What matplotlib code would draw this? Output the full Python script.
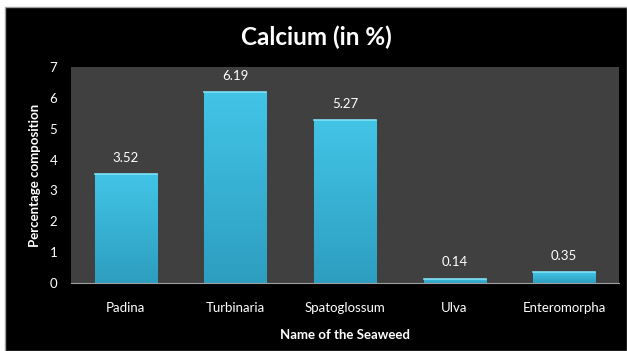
import numpy as np
import matplotlib
matplotlib.use('Agg')
import matplotlib.pyplot as plt
from matplotlib.patches import Rectangle

seaweeds = ['Padina', 'Turbinaria', 'Spatoglossum', 'Ulva', 'Enteromorpha']
calcium  = [3.52, 6.19, 5.27, 0.14, 0.35]
yticks   = [0, 1, 2, 3, 4, 5, 6, 7]

plt.rcParams['font.family'] = ['Lato', 'DejaVu Sans']

fig = plt.figure(figsize=(6.27, 3.51), dpi=100, facecolor='white')
# black chart area with white strip at left/top
bg = Rectangle((5/627, 0), 1 - 5/627, 1 - 7/351, transform=fig.transFigure,
               facecolor='black', edgecolor='#a0a0a0', linewidth=1, zorder=-10)
fig.patches.append(bg)

ax = fig.add_axes([71/627, 1 - 283/351, (619 - 71)/627, (283 - 67)/351])
ax.set_facecolor('#404040')

x = np.arange(len(seaweeds))
bars = ax.bar(x, calcium, width=0.566, color='#36b2d4', edgecolor='#2a8caa',
              linewidth=0.8, zorder=2)

# vertical gradient inside each bar
grad = np.linspace(0, 1, 100).reshape(-1, 1)
cmap = matplotlib.colors.LinearSegmentedColormap.from_list('b', ['#2d9ec0', '#42c4e6'])
for b in bars:
    x0, y0, w, h = b.get_x(), b.get_y(), b.get_width(), b.get_height()
    im = ax.imshow(grad, extent=(x0, x0 + w, y0, y0 + h), origin='lower',
                   cmap=cmap, aspect='auto', zorder=2.5)
    im.set_clip_path(b)
    # light bevel on top
    ax.plot([x0, x0 + w], [y0 + h, y0 + h], color='#7fe0f5', lw=1.2, zorder=3)

for xi, v in zip(x, calcium):
    ax.annotate(f'{v:.2f}', (xi, v), xytext=(0, 7.5), textcoords='offset points',
                ha='center', va='bottom', color='white', fontsize=9.5)

ax.set_xlim(-0.5, len(seaweeds) - 0.5)
ax.set_ylim(0, 7)
ax.set_yticks(yticks)
ax.set_xticks(x)
ax.set_xticklabels(seaweeds)
ax.tick_params(colors='white', labelsize=9.5, length=0)
ax.tick_params(axis='x', pad=14)
ax.tick_params(axis='y', pad=10)
for s in ['top', 'right', 'left']:
    ax.spines[s].set_visible(False)
ax.spines['bottom'].set_color('#a0a0a0')

ax.set_xlabel('Name of the Seaweed', color='white', fontsize=9.5, fontweight='bold', labelpad=10.5)
ax.set_ylabel('Percentage composition', color='white', fontsize=9.5, fontweight='bold', labelpad=6)

fig.text((5 + 627) / 2 / 627, 1 - 37/351, 'Calcium (in %)', color='white',
         fontsize=17.5, fontweight='bold', ha='center', va='center')

fig.savefig('out.png', dpi=100, facecolor=fig.get_facecolor())
